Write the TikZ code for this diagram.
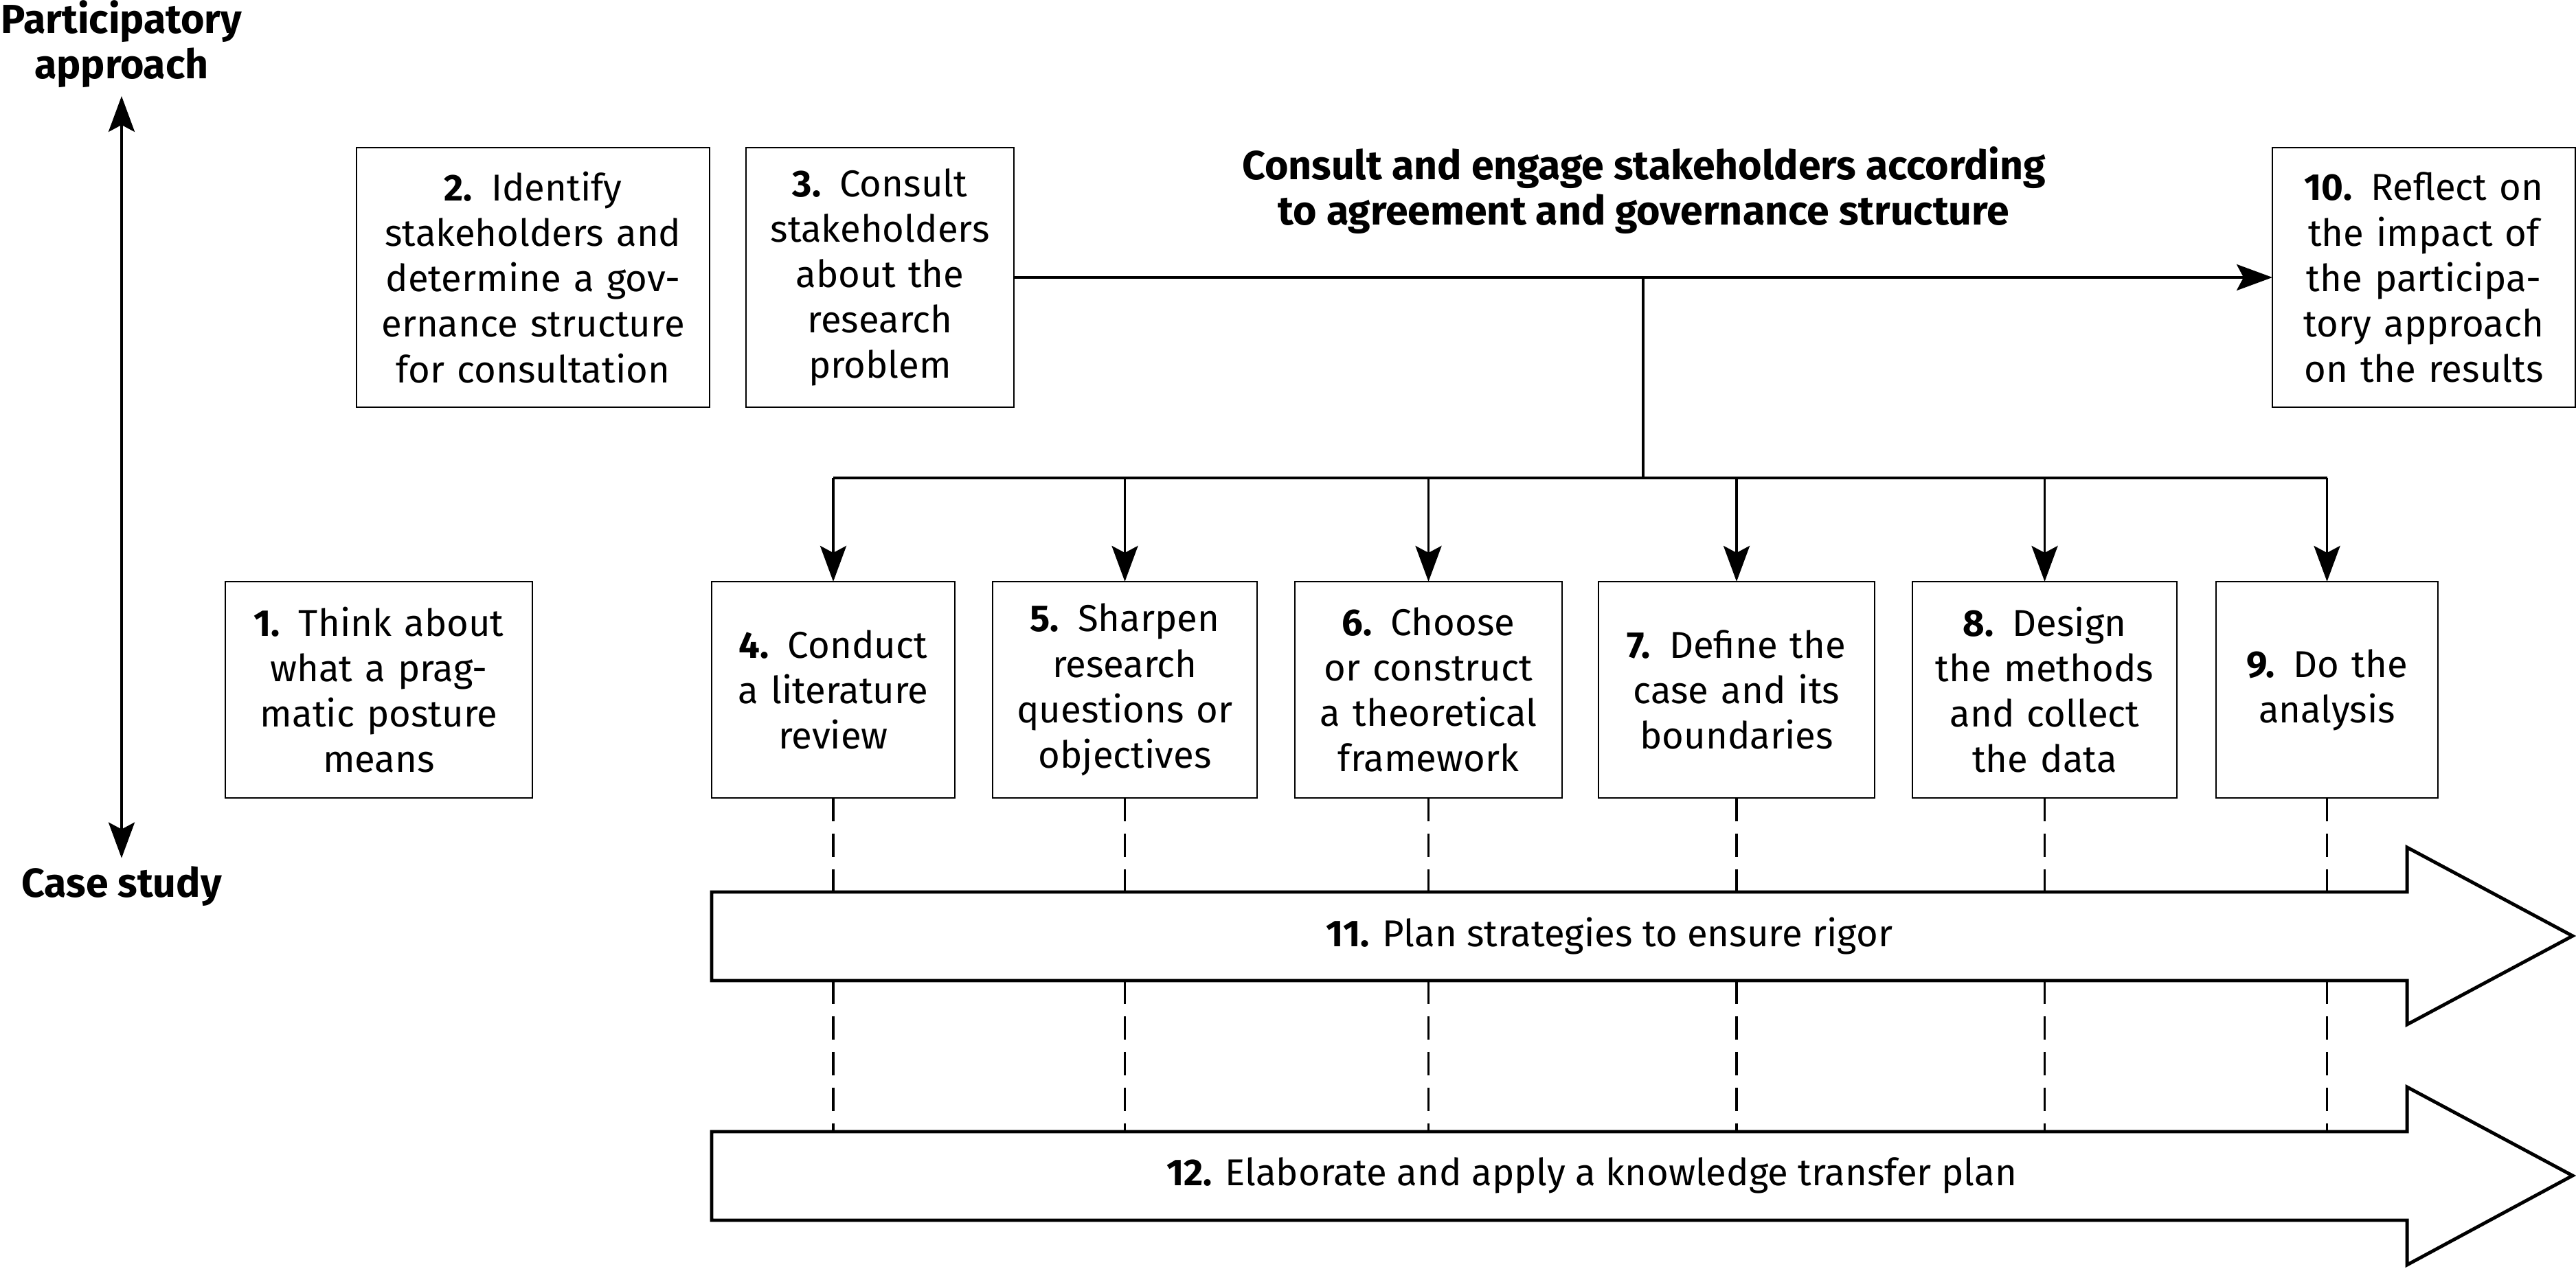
\documentclass[tikz,border=0pt]{standalone}
\usepackage{fontspec}
\setmainfont{Fira Sans}
\usetikzlibrary{positioning,arrows.meta}

\begin{document}
\begin{tikzpicture}[
    font=\fontsize{15.5}{18.8}\selectfont,
    stepbox/.style={draw, line width=0.6pt, align=center, inner sep=0pt, outer sep=0pt, minimum height=3.15cm},
    tallbox/.style={stepbox, minimum height=3.78cm},
    heading/.style={font=\fontsize{16.8}{18.8}\selectfont\bfseries, align=center},
    link/.style={line width=1.1pt},
    dashlink/.style={line width=1.1pt, dash pattern=on 0.34cm off 0.18cm},
    bigarrow/.style={line width=1.4pt, line join=miter},
    >={Stealth[length=5.2mm,width=3.8mm,inset=1mm]}
]
    \useasboundingbox (0,0) rectangle (37.5,18.47);

    % participatory steps on top
    \node[tallbox, text width=5.14cm] (identify) at (7.76,14.43) {\textbf{2.} Identify\\stakeholders and\\determine a gov-\\ernance structure\\for consultation};
    \node[tallbox, text width=3.90cm, right=0.53cm of identify] (consult) {\textbf{3.} Consult\\stakeholders\\about the\\research\\problem};
    \node[tallbox, text width=4.41cm] (reflect) at (35.285,14.43) {\textbf{10.} Reflect on\\the impact of\\the participa-\\tory approach\\on the results};
    \node[heading] (engage) at (23.93,15.70) {Consult and engage stakeholders according\\to agreement and governance structure};

    % case study steps
    \node[stepbox, text width=4.47cm] (think) at (5.515,8.425) {\textbf{1.} Think about\\what a prag-\\matic posture\\means};
    \node[stepbox, text width=3.54cm] (litreview) at (12.13,8.425) {\textbf{4.} Conduct\\a literature\\review};
    \node[stepbox, text width=3.85cm, right=0.55cm of litreview] (sharpen) {\textbf{5.} Sharpen\\research\\questions or\\objectives};
    \node[stepbox, text width=3.89cm, right=0.55cm of sharpen] (framework) {\textbf{6.} Choose\\or construct\\a theoretical\\framework};
    \node[stepbox, text width=4.02cm, right=0.53cm of framework] (casedef) {\textbf{7.} Define the\\case and its\\boundaries};
    \node[stepbox, text width=3.85cm, right=0.55cm of casedef] (methods) {\textbf{8.} Design\\the methods\\and collect\\the data};
    \node[stepbox, text width=3.23cm, right=0.57cm of methods] (analysis) {\textbf{9.} Do the\\analysis};

    % axis on the left
    \node[heading] (participatory) at (1.77,17.83) {Participatory\\approach};
    \node[heading] (casestudy) at (1.77,5.56) {Case study};
    \draw[link,<->] (participatory) -- (casestudy);

    % consultation links
    \coordinate (split) at (23.92,11.51);
    \draw[link,->] (consult) -- (reflect);
    \draw[link] (split |- consult.east) -- (split);
    \draw[link] (litreview.north |- split) -- (analysis.north |- split);
    \foreach \b in {litreview,sharpen,framework,casedef,methods,analysis}
        \draw[link,->] (\b.north |- split) -- (\b.north);

    % the two long arrows
    \draw[bigarrow] (10.36,5.48) coordinate (rigortop) -- (35.04,5.48) -- (35.04,6.13) -- (37.45,4.84)
        -- (35.04,3.55) -- (35.04,4.19) -- (10.36,4.19) coordinate (rigorbot) -- cycle;
    \node (rigor) at (23.43,4.84) {\textbf{11.} Plan strategies to ensure rigor};
    \draw[bigarrow] (10.36,1.99) coordinate (transfertop) -- (35.04,1.99) -- (35.04,2.64) -- (37.45,1.35)
        -- (35.04,0.05) -- (35.04,0.70) -- (10.36,0.70) -- cycle;
    \node (transfer) at (23.17,1.35) {\textbf{12.} Elaborate and apply a knowledge transfer plan};

    \foreach \b in {litreview,sharpen,framework,casedef,methods,analysis} {
        \draw[dashlink] (\b.south) -- (\b.south |- rigortop);
        \draw[dashlink] (\b.south |- rigorbot) -- (\b.south |- transfertop);
    }
\end{tikzpicture}
\end{document}
